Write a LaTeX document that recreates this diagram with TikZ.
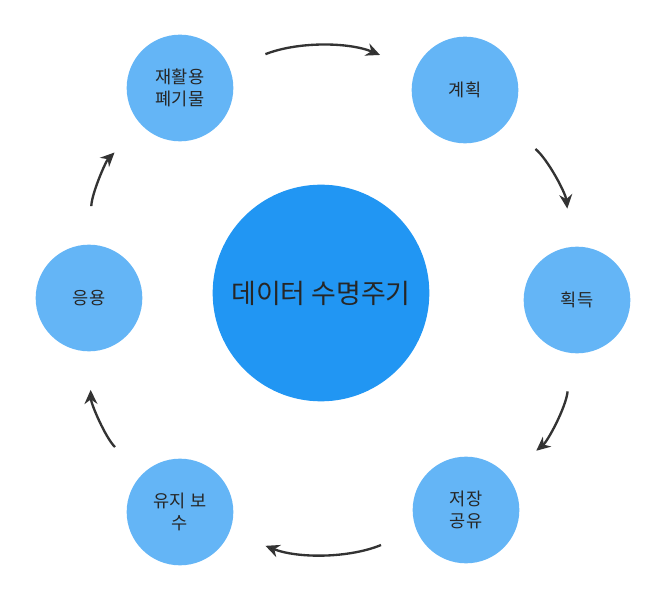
\documentclass[tikz,border=0pt]{standalone}
\usepackage{fontspec}
\newfontfamily\kr{Noto Sans CJK KR}
\usetikzlibrary{arrows.meta}
\definecolor{hub}{HTML}{2196F3}
\definecolor{stage}{HTML}{64B5F6}
\definecolor{arrowgray}{HTML}{333333}
\tikzset{
  stage/.style={circle, fill=stage, minimum size=3.2cm, inner sep=0pt, align=center, font=\kr\fontsize{15}{19}\selectfont, text=black!85},
  cycle/.style={draw=arrowgray, line width=2pt, -{Stealth[length=12pt,width=11pt]}, bend left=22, shorten <=1.15cm, shorten >=1.15cm}
}
\begin{document}
\begin{tikzpicture}[x=0.03cm,y=-0.03cm]
\useasboundingbox (0,0) rectangle (666,600);
\node[circle, fill=hub, minimum size=6.5cm, inner sep=0pt, font=\kr\fontsize{23}{28}\selectfont, text=black!85] (hub) at (321,293) {데이터 수명주기};
\node[stage] (recycle) at (180,88) {재활용\\폐기물};
\node[stage] (plan) at (465,90) {계획};
\node[stage] (acquire) at (577,300) {획득};
\node[stage] (store) at (466,510) {저장\\공유};
\node[stage] (maintain) at (180,512) {유지 보\\수};
\node[stage] (apply) at (89,298) {응용};
\path[cycle] (recycle) edge (plan);
\path[cycle] (plan) edge (acquire);
\path[cycle] (acquire) edge (store);
\path[cycle] (store) edge (maintain);
\path[cycle] (maintain) edge (apply);
\path[cycle] (apply) edge (recycle);
\end{tikzpicture}
\end{document}
